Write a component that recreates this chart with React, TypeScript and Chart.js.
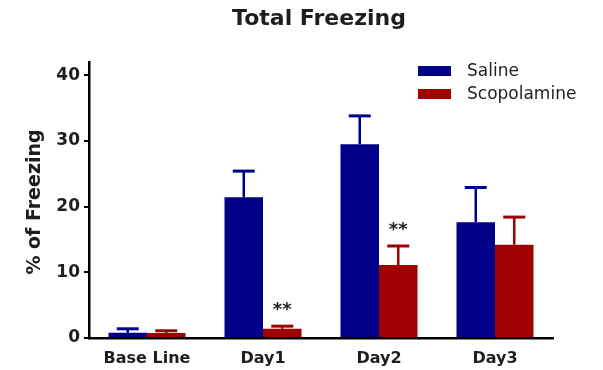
import React, { useEffect, useRef } from "react";
import { Chart, registerables } from "chart.js";

Chart.register(...registerables);

const categories = ["Base Line", "Day1", "Day2", "Day3"];
const seriesNames = ["Saline", "Scopolamine"];
const salineValues = [0.8, 21.4, 29.5, 17.6];
const salineErrors = [0.6, 4.0, 4.3, 5.3];
const scopValues = [0.75, 1.4, 11.1, 14.2];
const scopErrors = [0.35, 0.4, 2.9, 4.2];
const scopSignificance = ["", "**", "**", ""];
const yTicks = [0, 10, 20, 30, 40];
const titleText = "Total Freezing";
const yTitleText = "% of Freezing";

const SALINE = "#000088";
const SCOP = "#a00000";
const TEXT = "#1e1e1e";
const FONT = "'DejaVu Sans', 'Liberation Sans', Arial, sans-serif";

export default function App() {
  const ref = useRef<HTMLCanvasElement | null>(null);

  useEffect(() => {
    const canvas = ref.current;
    if (!canvas) return;
    const errors = [salineErrors, scopErrors];
    const values = [salineValues, scopValues];
    const colors = [SALINE, SCOP];

    const overlay = {
      id: "overlay",
      afterDatasetsDraw(chart: any) {
        const ctx = chart.ctx;
        const y = chart.scales.y;
        ctx.save();
        chart.data.datasets.forEach((_ds: any, di: number) => {
          const meta = chart.getDatasetMeta(di);
          meta.data.forEach((bar: any, i: number) => {
            const top = y.getPixelForValue(values[di][i] + errors[di][i]);
            ctx.strokeStyle = colors[di];
            ctx.lineWidth = 2.5;
            ctx.beginPath();
            ctx.moveTo(bar.x, bar.y);
            ctx.lineTo(bar.x, top);
            ctx.stroke();
            ctx.lineWidth = 3;
            ctx.beginPath();
            ctx.moveTo(bar.x - 11, top);
            ctx.lineTo(bar.x + 11, top);
            ctx.stroke();
            if (di === 1 && scopSignificance[i]) {
              ctx.fillStyle = TEXT;
              ctx.font = `bold 18px ${FONT}`;
              ctx.textAlign = "center";
              ctx.textBaseline = "alphabetic";
              ctx.fillText(scopSignificance[i], bar.x, top - 11);
            }
          });
        });
        ctx.restore();
      },
      afterDraw(chart: any) {
        const ctx = chart.ctx;
        const area = chart.chartArea;
        ctx.save();
        ctx.fillStyle = TEXT;
        ctx.font = `bold 22px ${FONT}`;
        ctx.textAlign = "center";
        ctx.textBaseline = "middle";
        ctx.fillText(titleText, (area.left + area.right) / 2 - 2, 19);
        ctx.save();
        ctx.translate(35, (area.top + area.bottom) / 2 + 2);
        ctx.rotate(-Math.PI / 2);
        ctx.font = `bold 19px ${FONT}`;
        ctx.fillText(yTitleText, 0, 0);
        ctx.restore();
        ctx.font = `17px ${FONT}`;
        ctx.textAlign = "left";
        seriesNames.forEach((name, k) => {
          const cy = 71 + k * 23;
          ctx.fillStyle = colors[k];
          ctx.fillRect(418, cy - 5, 33, 10);
          ctx.fillStyle = TEXT;
          ctx.fillText(name, 467, cy + 1);
        });
        ctx.restore();
      },
    };

    const chart = new Chart(canvas, {
      type: "bar",
      data: {
        labels: categories,
        datasets: [
          { label: seriesNames[0], data: salineValues, backgroundColor: SALINE, borderWidth: 0 },
          { label: seriesNames[1], data: scopValues, backgroundColor: SCOP, borderWidth: 0 },
        ],
      },
      options: {
        animation: false,
        responsive: false,
        devicePixelRatio: 1,
        layout: { padding: { left: 0, right: 50, top: 62, bottom: 0 } },
        datasets: { bar: { categoryPercentage: 0.664, barPercentage: 1 } },
        plugins: {
          legend: { display: false },
          title: { display: false },
          tooltip: { enabled: false },
        },
        scales: {
          x: {
            grid: { display: false, drawTicks: false },
            border: { display: true, color: "#000", width: 2.5 },
            ticks: {
              color: TEXT,
              padding: 11,
              font: { family: FONT, size: 16, weight: "bold" },
            },
            afterFit(scale: any) {
              scale.height = 32;
            },
          },
          y: {
            min: 0,
            max: 42,
            grid: {
              drawOnChartArea: false,
              drawTicks: true,
              tickLength: 5,
              color: "#000",
              lineWidth: 2,
            },
            border: { display: true, color: "#000", width: 2.5 },
            ticks: {
              color: TEXT,
              padding: 4,
              font: { family: FONT, size: 17, weight: "bold" },
            },
            afterBuildTicks(scale: any) {
              scale.ticks = yTicks.map((v) => ({ value: v }));
            },
            afterFit(scale: any) {
              scale.width = 89;
            },
          },
        },
      },
      plugins: [overlay],
    });
    return () => chart.destroy();
  }, []);

  return (
    <canvas
      ref={ref}
      width={603}
      height={370}
      style={{ position: "fixed", left: 0, top: 0, width: 603, height: 370, background: "#fff" }}
    />
  );
}
